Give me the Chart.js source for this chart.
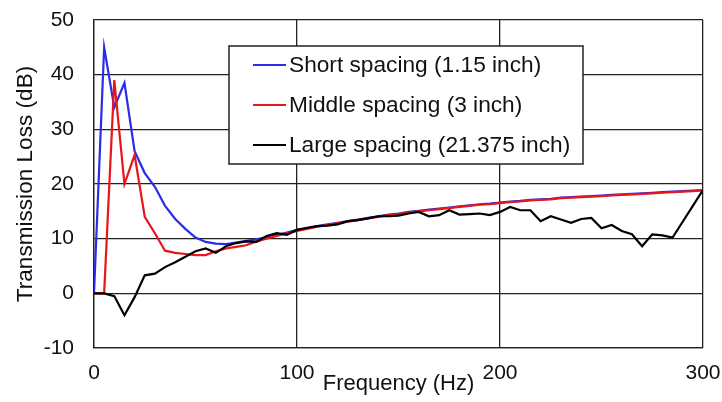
<!DOCTYPE html>
<html>
<head>
<meta charset="utf-8">
<script src="https://cdn.jsdelivr.net/npm/chart.js@4"></script>
<style>
  html, body { margin: 0; padding: 0; background: #fff; }
  #wrap { width: 722px; height: 402px; }
</style>
</head>
<body>
<div id="wrap"><canvas id="tl" width="722" height="402"></canvas></div>
<script>
const freq = [0, 5, 10, 15, 20, 25, 30, 35, 40, 45, 50, 55, 60, 65, 70, 75, 80, 85, 90, 95,
  100, 105, 110, 115, 120, 125, 130, 135, 140, 145, 150, 155, 160, 165, 170, 175, 180, 185, 190, 195,
  200, 205, 210, 215, 220, 225, 230, 235, 240, 245, 250, 255, 260, 265, 270, 275, 280, 285, 290, 295, 300];

const shortSpacing = [0, 45, 34, 38.5, 26, 22, 19.5, 16, 13.6, 11.8, 10.2, 9.4, 9.1, 9.0, 9.3, 9.6, 9.9, 10.3, 10.7, 11.1,
  11.6, 11.9, 12.3, 12.6, 12.9, 13.2, 13.5, 13.8, 14.1, 14.4, 14.6, 14.9, 15.1, 15.3, 15.5, 15.7, 15.9, 16.1, 16.3, 16.4,
  16.6, 16.8, 16.9, 17.1, 17.2, 17.3, 17.5, 17.6, 17.7, 17.8, 17.9, 18.0, 18.1, 18.2, 18.3, 18.4, 18.5, 18.6, 18.7, 18.8, 18.9];

const middleSpacing = [0, 0, 39, 20, 25.3, 14, 11, 7.8, 7.4, 7.2, 7.0, 7.0, 7.7, 8.2, 8.5, 8.8, 9.5, 10.0, 10.5, 11.0,
  11.4, 11.8, 12.2, 12.5, 12.8, 13.1, 13.4, 13.7, 14.0, 14.3, 14.5, 14.8, 15.0, 15.2, 15.4, 15.6, 15.8, 16.0, 16.2, 16.3,
  16.5, 16.7, 16.8, 17.0, 17.1, 17.2, 17.4, 17.5, 17.6, 17.7, 17.8, 17.9, 18.0, 18.1, 18.2, 18.3, 18.4, 18.5, 18.6, 18.7, 18.85];

const largeSpacing = [0, 0, -0.5, -4, -0.7, 3.3, 3.6, 4.8, 5.7, 6.7, 7.7, 8.2, 7.4, 8.6, 9.2, 9.5, 9.4, 10.5, 11.0, 10.7,
  11.6, 12.0, 12.3, 12.4, 12.6, 13.2, 13.4, 13.7, 14.1, 14.1, 14.2, 14.6, 14.9, 14.1, 14.3, 15.2, 14.4, 14.5, 14.6, 14.3,
  14.9, 15.8, 15.2, 15.2, 13.2, 14.1, 13.5, 12.9, 13.6, 13.8, 11.9, 12.5, 11.4, 10.8, 8.6, 10.8, 10.6, 10.2, 13.1, 16.0, 18.9];

const seriesNames = ["Short spacing (1.15 inch)", "Middle spacing (3 inch)", "Large spacing (21.375 inch)"];
const seriesColors = ["#2b2bea", "#e8151b", "#000000"];

const FONT = '"Liberation Sans", Arial, sans-serif';
const pts = (vals) => vals.map((v, i) => ({ x: freq[i], y: v }));

// legend drawn inside the plot, boxed like the original
const boxLegend = {
  id: "boxLegend",
  afterDraw(chart) {
    const ctx = chart.ctx;
    ctx.save();
    ctx.fillStyle = "#fff";
    ctx.fillRect(229, 46, 354, 118);
    ctx.strokeStyle = "#222";
    ctx.lineWidth = 1.5;
    ctx.strokeRect(229, 46, 354, 118);
    ctx.font = "22.7px " + FONT;
    ctx.textBaseline = "middle";
    ctx.fillStyle = "#111";
    seriesNames.forEach((name, i) => {
      const y = 65 + i * 40;
      ctx.strokeStyle = seriesColors[i];
      ctx.lineWidth = 2;
      ctx.beginPath();
      ctx.moveTo(253, y);
      ctx.lineTo(286, y);
      ctx.stroke();
      ctx.fillText(name, 289, y + 1);
    });
    ctx.restore();
  },
};

const gridStyle = { color: "#222", lineWidth: 1.3, drawTicks: false };

new Chart(document.getElementById("tl"), {
  type: "line",
  data: {
    datasets: [
      { label: seriesNames[2], data: pts(largeSpacing), borderColor: seriesColors[2], borderWidth: 2.2 },
      { label: seriesNames[1], data: pts(middleSpacing), borderColor: seriesColors[1], borderWidth: 2.2 },
      { label: seriesNames[0], data: pts(shortSpacing), borderColor: seriesColors[0], borderWidth: 2.2 },
    ],
  },
  options: {
    responsive: false,
    animation: false,
    elements: { point: { radius: 0 }, line: { tension: 0 } },
    layout: { padding: { top: 20, right: 19, left: 0, bottom: 0 } },
    plugins: { legend: { display: false }, tooltip: { enabled: false } },
    scales: {
      x: {
        type: "linear",
        min: 0,
        max: 300,
        ticks: { stepSize: 100, color: "#111", font: { family: FONT, size: 21 }, padding: 13, maxRotation: 0 },
        grid: gridStyle,
        border: { color: "#222", width: 1.3 },
        title: { display: true, text: "Frequency (Hz)", color: "#111", font: { family: FONT, size: 22 }, padding: { top: 0, bottom: 5 } },
        afterFit(s) { s.height = 54; s.paddingLeft = 0; s.paddingRight = 0; },
      },
      y: {
        min: -10,
        max: 50,
        ticks: { stepSize: 10, color: "#111", font: { family: FONT, size: 21 }, padding: 20 },
        grid: gridStyle,
        border: { color: "#222", width: 1.3 },
        title: { display: true, text: "Transmission Loss (dB)", color: "#111", font: { family: FONT, size: 22.6 }, padding: { top: 12, bottom: 0 } },
        afterFit(s) { s.width = 94; s.paddingTop = 0; s.paddingBottom = 0; },
      },
    },
  },
  plugins: [boxLegend],
});
</script>
</body>
</html>
